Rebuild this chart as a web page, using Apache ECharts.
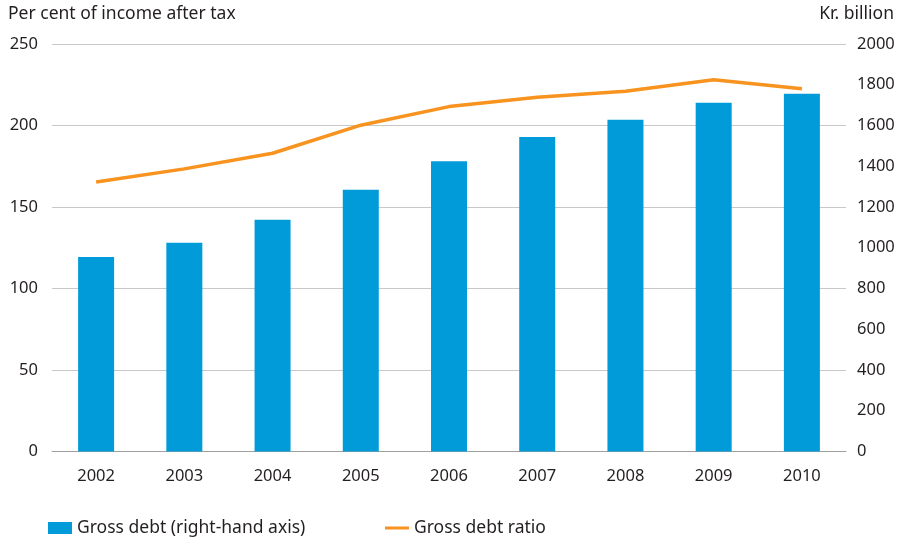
<!DOCTYPE html>
<html>
<head>
<meta charset="utf-8">
<script src="https://cdn.jsdelivr.net/npm/echarts@6/dist/echarts.min.js"></script>
<style>
  html, body { margin: 0; padding: 0; background: #fff; }
  #chart { width: 903px; height: 540px; }
</style>
</head>
<body>
<div id="chart"></div>
<script>
// data
var years = ['2002', '2003', '2004', '2005', '2006', '2007', '2008', '2009', '2010'];
// Gross debt, kr. billion (right-hand axis)
var grossDebt = [955, 1024, 1137, 1285, 1425, 1543, 1628, 1712, 1756];
// Gross debt ratio, per cent of income after tax
var debtRatio = [165.3, 173.4, 183.0, 200.2, 211.6, 217.3, 221.0, 228.0, 222.5];

var textColor = '#231f20';
var font = 'Noto Sans';

var chart = echarts.init(document.getElementById('chart'));

chart.setOption({
    animation: false,
    textStyle: { fontFamily: font, color: textColor },
    grid: { left: 52, right: 57, top: 44, bottom: 88.5, containLabel: false },
    graphic: [
        { type: 'text', left: 8, top: 5, style: { text: 'Per cent of income after tax', font: '17.5px "Noto Sans"', fill: textColor } },
        { type: 'text', right: 9, top: 5, style: { text: 'Kr. billion', font: '17.5px "Noto Sans"', fill: textColor } }
    ],
    legend: [
        {
            left: 48, top: 519, padding: 0, itemWidth: 24, itemHeight: 12,
            textStyle: { fontSize: 17.5, color: textColor, fontFamily: font },
            data: [{ name: 'Gross debt (right-hand axis)', icon: 'rect' }]
        },
        {
            left: 385, top: 519, padding: 0, itemWidth: 24, itemHeight: 12,
            textStyle: { fontSize: 17.5, color: textColor, fontFamily: font },
            data: [{ name: 'Gross debt ratio', icon: 'path://M0,0L24,0L24,3L0,3Z' }]
        }
    ],
    xAxis: {
        type: 'category',
        data: years,
        axisLine: { lineStyle: { color: '#a0a0a0', width: 1 } },
        axisTick: { inside: true, length: 5, lineStyle: { color: '#a0a0a0' } },
        axisLabel: { fontSize: 16.5, color: textColor, margin: 16 }
    },
    yAxis: [
        {
            type: 'value', min: 0, max: 250, interval: 50,
            axisLine: { show: false }, axisTick: { show: false },
            axisLabel: { fontSize: 16.5, color: textColor, margin: 14 },
            splitLine: { lineStyle: { color: '#c8c8c8', width: 1 } }
        },
        {
            type: 'value', min: 0, max: 2000, interval: 200,
            axisLine: { show: false }, axisTick: { show: false },
            axisLabel: { fontSize: 16.5, color: textColor, margin: 11, formatter: function (v) { return String(v); } },
            splitLine: { show: false }
        }
    ],
    series: [
        {
            name: 'Gross debt (right-hand axis)',
            type: 'bar',
            yAxisIndex: 1,
            data: grossDebt,
            barWidth: 36,
            itemStyle: { color: '#009bd8' }
        },
        {
            name: 'Gross debt ratio',
            type: 'line',
            yAxisIndex: 0,
            data: debtRatio,
            symbol: 'none',
            lineStyle: { color: '#f7931e', width: 3.5 },
            itemStyle: { color: '#f7931e' }
        }
    ]
});
</script>
</body>
</html>
